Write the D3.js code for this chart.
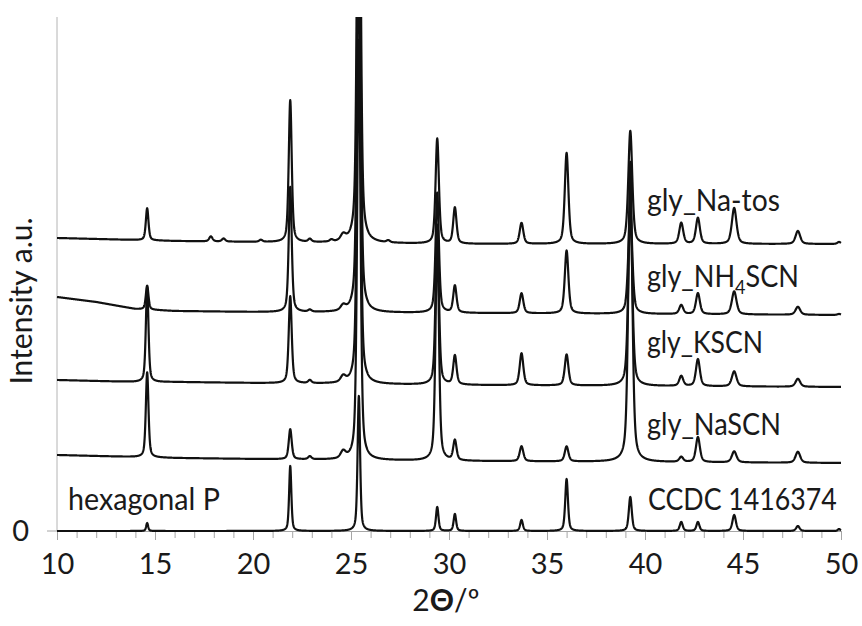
<!DOCTYPE html>
<html>
<head>
<meta charset="utf-8">
<script src="https://cdn.jsdelivr.net/npm/d3@7"></script>
<style>
  body { margin: 0; background: #fff; }
  text { font-family: Lato, "Open Sans", sans-serif; fill: #1a1a1a; }
</style>
</head>
<body>
<div id="chart"></div>
<script>
// peak list (2theta in degrees), heights in a.u.
const peakAngles = [14.6, 17.85, 18.5, 20.4, 21.9, 22.9, 24.0, 24.6, 25.4, 26.9, 29.4, 30.3, 33.7, 36.0, 39.25, 41.85, 42.7, 44.55, 47.8, 49.9];
const peakWidths = [0.08, 0.1, 0.1, 0.1, 0.09, 0.1, 0.1, 0.15, 0.1, 0.1, 0.1, 0.1, 0.11, 0.11, 0.12, 0.12, 0.12, 0.14, 0.14, 0.1];

const naTosPeaks = [32, 5, 3, 2, 142, 3, 2, 6, 560, 2, 105, 36, 21, 91, 113, 21, 26, 36, 13, 2];
const nh4scnPeaks = [24, 0, 0, 0, 125, 2, 0, 5, 500, 0, 120, 27, 20, 63, 104, 9, 21, 23, 8, 1];
const kscnPeaks = [95, 0, 0, 0, 87, 3, 0, 6, 450, 0, 160, 29, 32, 31, 180, 10, 27, 15, 8, 0];
const nascnPeaks = [85, 0, 0, 0, 30, 3, 0, 7, 420, 0, 230, 20, 15, 15, 300, 5, 25, 11, 11, 0];
const hexPeaks = [8, 0, 0, 0, 65, 0, 0, 0, 135, 0, 24, 17, 11, 52, 34, 9, 9, 16, 5, 2];

// background (vertical offset) of each pattern
const baseAngles = [10, 12, 14, 16, 20, 30, 50];
const naTosBase = [293, 292, 291, 290, 289, 287, 287];
const nh4scnBase = [234, 229, 222, 220, 219, 218, 216];
const kscnBase = [151, 150, 149, 149, 148, 146, 144];
const nascnBase = [76, 75, 74, 73, 72, 70, 68];
const hexBase = [0, 0, 0, 0, 0, 0, 0];

const xTicks = [10, 15, 20, 25, 30, 35, 40, 45, 50];

const patterns = [
    { name: 'gly_Na-tos', peaks: naTosPeaks, base: naTosBase, sharp: 1 },
    { name: 'gly_NH4SCN', peaks: nh4scnPeaks, base: nh4scnBase, sharp: 1 },
    { name: 'gly_KSCN', peaks: kscnPeaks, base: kscnBase, sharp: 1 },
    { name: 'gly_NaSCN', peaks: nascnPeaks, base: nascnBase, sharp: 1 },
    { name: 'CCDC 1416374', peaks: hexPeaks, base: hexBase, sharp: 0.75 }
];

const width = 862;
const height = 626;
const margin = { top: 17, right: 21, bottom: 95, left: 57 };

const svg = d3.select('#chart')
    .append('svg')
    .attr('width', width)
    .attr('height', height);

const x = d3.scaleLinear().domain([10, 50]).range([margin.left, width - margin.right]);
const y = d3.scaleLinear().domain([0, 514]).range([height - margin.bottom, margin.top]);

svg.append('defs').append('clipPath')
    .attr('id', 'plotClip')
    .append('rect')
    .attr('x', margin.left - 2)
    .attr('y', margin.top)
    .attr('width', width - margin.left - margin.right + 4)
    .attr('height', height - margin.top - margin.bottom + 6);

// axes
const axisColor = '#a6a6a6';

svg.append('line')
    .attr('x1', margin.left).attr('x2', margin.left)
    .attr('y1', margin.top).attr('y2', y(0))
    .attr('stroke', '#b4b4b4');
svg.append('line')
    .attr('x1', margin.left - 10).attr('x2', margin.left)
    .attr('y1', y(0)).attr('y2', y(0))
    .attr('stroke', axisColor);

svg.append('text')
    .attr('x', 29)
    .attr('y', y(0) + 10)
    .attr('text-anchor', 'end')
    .attr('font-size', 29)
    .text('0');

const minorAxis = svg.append('g')
    .attr('transform', `translate(0,${y(0)})`)
    .call(d3.axisBottom(x).tickValues(d3.range(10, 51, 1)).tickSize(7).tickFormat(''));
const majorAxis = svg.append('g')
    .attr('transform', `translate(0,${y(0)})`)
    .call(d3.axisBottom(x).tickValues(xTicks).tickSize(9).tickPadding(13).tickFormat(d3.format('d')));

[minorAxis, majorAxis].forEach(g => {
    g.select('.domain').attr('stroke', axisColor);
    g.selectAll('.tick line').attr('stroke', axisColor);
});
majorAxis.selectAll('.tick text')
    .attr('font-size', 29)
    .attr('font-family', 'Lato, sans-serif')
    .attr('fill', '#1a1a1a');

svg.append('text')
    .attr('x', 446)
    .attr('y', 611)
    .attr('text-anchor', 'middle')
    .attr('font-size', 30)
    .html('2<tspan font-weight="bold">Θ</tspan>/º');

svg.append('text')
    .attr('transform', 'translate(32,301) rotate(-90)')
    .attr('text-anchor', 'middle')
    .attr('font-size', 30)
    .text('Intensity a.u.');

// patterns
const grid = d3.range(10, 50.0001, 0.01);

function profile(p, t) {
    const base = d3.scaleLinear().domain(baseAngles).range(p.base)(t);
    let sum = 0;
    peakAngles.forEach((c, i) => {
        const h = p.peaks[i];
        if (!h) return;
        const w = peakWidths[i] * p.sharp;
        const u = (t - c) / w;
        sum += h * (0.5 / (1 + u * u) + 0.5 * Math.exp(-0.693 * u * u));
    });
    return base + sum;
}

const line = d3.line()
    .x(d => x(d[0]))
    .y(d => y(d[1]));

svg.append('g')
    .attr('clip-path', 'url(#plotClip)')
    .selectAll('path')
    .data(patterns)
    .join('path')
    .attr('d', p => line(grid.map(t => [t, profile(p, t)])))
    .attr('fill', 'none')
    .attr('stroke', '#111')
    .attr('stroke-width', 2.2)
    .attr('stroke-linejoin', 'round');

// labels, squeezed horizontally to the narrow face of the original
const labels = svg.append('g').attr('font-size', 30);

function addLabel(px, py, fitWidth, html) {
    const t = labels.append('text').html(html);
    const w = t.node().getBBox().width;
    t.attr('transform', `translate(${px},${py}) scale(${fitWidth / w},1)`);
}

const labelX = x(40.1);
addLabel(labelX, 211, 133, 'gly_Na-tos');
addLabel(labelX, 287, 152, 'gly_NH<tspan font-size="20" dy="7">4</tspan><tspan dy="-7">SCN</tspan>');
addLabel(labelX, 353, 116, 'gly_KSCN');
addLabel(labelX, 435, 134, 'gly_NaSCN');
addLabel(labelX + 1, 510, 189, 'CCDC 1416374');
addLabel(x(10.56), 510, 152, 'hexagonal P');
</script>
</body>
</html>
